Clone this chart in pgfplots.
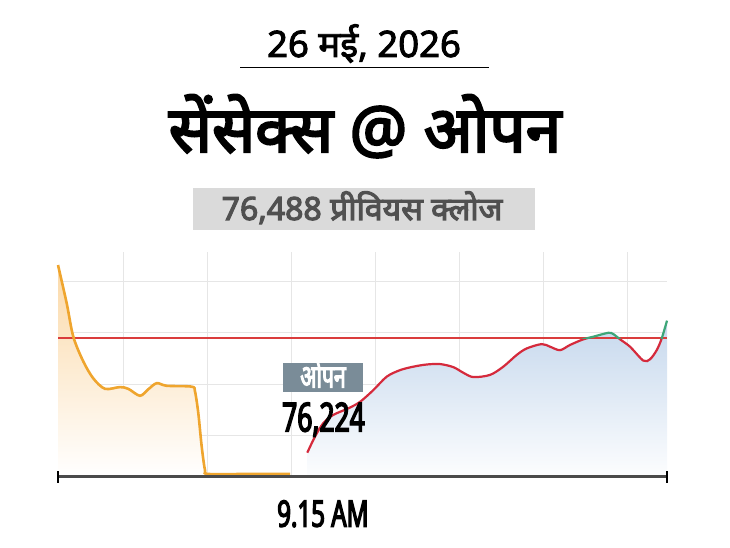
\documentclass[border=0pt]{standalone}
\usepackage{fontspec}
\usepackage{graphicx}
\usepackage{pgfplots}
\usepackage{pgfplotstable}
\pgfplotsset{compat=1.18}
\setmainfont[Script=Devanagari,BoldFont={Noto Sans},BoldFeatures={FakeBold=2.5}]{Noto Sans}
\newfontfamily\heavyfont[Script=Devanagari,FakeBold=3.5]{Noto Sans}
\newfontfamily\condfont[Script=Devanagari,FakeStretch=0.66,FakeBold=3.5]{Noto Sans}
\definecolor{gridc}{HTML}{E6E6E6}
\definecolor{refred}{HTML}{DA3C3C}
\definecolor{linered}{HTML}{D52A3C}
\definecolor{linegreen}{HTML}{3DA678}
\definecolor{orangeline}{HTML}{EFA52E}
\definecolor{orangefill}{HTML}{FBD9A8}
\definecolor{bluefill}{HTML}{C6D8ED}
\definecolor{axisc}{HTML}{4A4A4A}
\definecolor{boxgrey}{HTML}{DADADA}
\definecolor{textgrey}{HTML}{505050}
\definecolor{openbox}{HTML}{7A8C98}

\pgfplotstableread{
x y
0 76656
8.7 76568
15.3 76491
25.3 76434
35.3 76395
47 76371
62 76375
70.3 76371
82 76355
90.3 76370
98.7 76384
108.7 76378
133.7 76376
137 76365
140.3 76315
143.7 76238
147 76184
150.3 76175
190 76175
232 76175
}\orangedata

\pgfplotstableread{
x y
249.3 76224
257 76261
265.3 76292
275.3 76311
290.3 76326
302 76341
315.3 76368
328.7 76399
342 76414
355.3 76422
368.7 76427
382 76428
395.3 76421
405.3 76408
415.3 76398
432 76403
445.3 76422
458.7 76449
468.7 76464
483.7 76474
492 76468
502 76460
512 76472
525.3 76485
535.3 76491
550.3 76500
555.3 76497
562 76485
572 76468
585.3 76436
592 76439
598.7 76460
603.7 76487
609 76528
}\sensexdata

\begin{document}
\begin{tikzpicture}
\path[use as bounding box] (0,0) rectangle (730pt,548pt);

% titles
\node[anchor=base, inner sep=0pt] at (364pt,491pt)
  {\fontsize{36.5}{40}\selectfont\bfseries 26 मई, 2026};
\draw[line width=1.5pt, black] (240pt,480.5pt) -- (489pt,480.5pt);
\node[anchor=base, inner sep=0pt] at (365pt,396pt)
  {\heavyfont\fontsize{64}{70}\selectfont सेंसेक्स @ ओपन};
\fill[boxgrey] (193pt,318pt) rectangle (535pt,360pt);
\node[anchor=base, inner sep=0pt, text=textgrey] at (362pt,328pt)
  {\heavyfont\fontsize{32}{35}\selectfont 76,488 प्रीवियस क्लोज};

\begin{axis}[
  at={(58pt,71pt)}, anchor=south west,
  scale only axis, width=609pt, height=225pt,
  xmin=0, xmax=609, ymin=76168, ymax=76686,
  xtick={65,149,233,317,401,485,569},
  ytick={76264,76382,76501,76619},
  xticklabels={}, yticklabels={},
  scaled y ticks=false, scaled x ticks=false,
  major tick length=0pt,
  grid=major, major grid style={gridc, line width=1pt},
  axis line style={draw=none},
  clip=false,
]
% orange area
\addplot[draw=none, smooth, top color=orangefill, bottom color=white, forget plot]
  table {\orangedata} -- (232,76168) -- (0,76168) -- cycle;
% blue area
\addplot[draw=none, smooth, top color=bluefill, bottom color=white!96!bluefill, forget plot]
  table {\sensexdata} -- (609,76168) -- (249.3,76168) -- cycle;
% previous close line
\addplot[refred, line width=2pt] coordinates {(0,76488) (609,76488)};
% orange line
\addplot[orangeline, line width=2.6pt, smooth] table {\orangedata};
% sensex line, red below, green above the previous close
\begin{scope}
\clip (0,76100) rectangle (620,76488);
\addplot[linered, line width=2.2pt, smooth] table {\sensexdata};
\end{scope}
\begin{scope}
\clip (0,76488) rectangle (620,76800);
\addplot[linegreen, line width=2.2pt, smooth] table {\sensexdata};
\end{scope}
% bottom axis line
\draw[axisc, line width=3pt] (0,76168) -- (609,76168);
\draw[black, line width=2pt] (0,76168) ++(0pt,-6pt) -- ++(0pt,12pt);
\draw[black, line width=2pt] (609,76168) ++(0pt,-6pt) -- ++(0pt,12pt);
\end{axis}

% open label
\fill[openbox] (283pt,156.3pt) rectangle (363pt,185.3pt);
\node[anchor=base, inner sep=0pt, text=white] at (323pt,160.5pt)
  {\condfont\fontsize{32}{35}\selectfont ओपन};
\node[anchor=base west, inner sep=0pt] at (282pt,116.5pt)
  {\condfont\fontsize{40}{44}\selectfont 76,224};
\node[anchor=base west, inner sep=0pt] at (277pt,21.3pt)
  {\condfont\fontsize{36.5}{40}\selectfont 9.15 AM};
\end{tikzpicture}
\end{document}
